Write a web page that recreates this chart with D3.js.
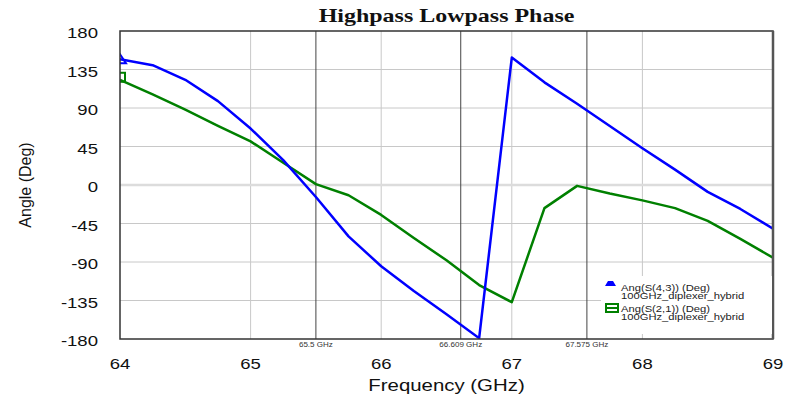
<!DOCTYPE html>
<html>
<head>
<meta charset="utf-8">
<script src="https://cdn.jsdelivr.net/npm/d3@7"></script>
<style>
  body { margin: 0; background: #fff; }
  text { font-family: "Liberation Sans", Arial, sans-serif; }
</style>
</head>
<body>
<div id="chart"></div>
<script>
// frequency points (GHz)
var freqs = [64, 64.25, 64.5, 64.75, 65, 65.25, 65.5, 65.75, 66, 66.25, 66.5,
             66.75, 67, 67.25, 67.5, 67.75, 68, 68.25, 68.5, 68.75, 69];
// Ang(S(4,3)) (Deg)
var s43 = [147, 140, 123, 98, 66, 29, -14, -60, -95, -124, -151,
           -179, 149, 120, 95, 69, 43, 18, -8, -28, -51];
// Ang(S(2,1)) (Deg)
var s21 = [123, 106, 88, 69, 51, 26, 1, -12, -35, -62, -88,
           -117, -137, -27, -1, -10, -18, -27, -42, -63, -85];

var xTicks = [64, 65, 66, 67, 68, 69];
var yTicks = [180, 135, 90, 45, 0, -45, -90, -135, -180];
var markers = [65.5, 66.609, 67.575];
var markerLabels = ["65.5 GHz", "66.609 GHz", "67.575 GHz"];
var seriesNames = ["Ang(S(4,3)) (Deg)", "Ang(S(2,1)) (Deg)"];
var seriesSource = "100GHz_diplexer_hybrid";

// text in the picture is a bit wider than normal, so stretch it sideways
function addText(g, x, y, str, size, anchor, sx){
    return g.append("text")
        .attr("transform", "translate(" + x + "," + y + ") scale(" + sx + ",1)")
        .attr("text-anchor", anchor)
        .attr("font-size", size)
        .attr("fill", "#111")
        .text(str);
}

function init(){
    var w = 790, h = 395;
    var left = 120, right = 773, top = 31, bottom = 339;

    var svg = d3.select("#chart")
                .append("svg")
                .attr("width", w)
                .attr("height", h);

    var x = d3.scaleLinear().domain([64, 69]).range([left, right]);
    var y = d3.scaleLinear().domain([-180, 180]).range([bottom, top]);

    svg.append("clipPath").attr("id", "plotclip")
        .append("rect")
        .attr("x", left).attr("y", top)
        .attr("width", right - left).attr("height", bottom - top);

    // grid
    svg.append("g")
        .selectAll("line")
        .data(xTicks.slice(1, -1))
        .enter()
        .append("line")
        .attr("x1", function(d){ return x(d); })
        .attr("x2", function(d){ return x(d); })
        .attr("y1", top).attr("y2", bottom)
        .attr("stroke", "#c8c8c8")
        .attr("stroke-width", 1);

    svg.append("g")
        .selectAll("line")
        .data(yTicks.slice(1, -1))
        .enter()
        .append("line")
        .attr("x1", left).attr("x2", right)
        .attr("y1", function(d){ return y(d); })
        .attr("y2", function(d){ return y(d); })
        .attr("stroke", function(d){ return d == 0 ? "#dcdcdc" : "#c8c8c8"; })
        .attr("stroke-width", function(d){ return d == 0 ? 2.5 : 1; });

    // frequency markers
    svg.append("g")
        .selectAll("line")
        .data(markers)
        .enter()
        .append("line")
        .attr("x1", function(d){ return x(d); })
        .attr("x2", function(d){ return x(d); })
        .attr("y1", top).attr("y2", bottom)
        .attr("stroke", "#444")
        .attr("stroke-width", 1);

    var mg = svg.append("g");
    markers.forEach(function(d, i){
        addText(mg, x(d), bottom + 8, markerLabels[i], 7, "middle", 1.15)
            .attr("fill", "#333");
    });

    // series lines
    var line = d3.line()
        .x(function(d, i){ return x(freqs[i]); })
        .y(function(d){ return y(d); });

    var plot = svg.append("g").attr("clip-path", "url(#plotclip)");

    plot.append("path")
        .datum(s21)
        .attr("d", line)
        .attr("fill", "none")
        .attr("stroke", "#008000")
        .attr("stroke-width", 2.5)
        .attr("stroke-linejoin", "round");

    plot.append("path")
        .datum(s43)
        .attr("d", line)
        .attr("fill", "none")
        .attr("stroke", "#0000ff")
        .attr("stroke-width", 2.5)
        .attr("stroke-linejoin", "round");

    // start markers (clipped by plot edge)
    var bx = x(freqs[0]), byy = y(s43[0]);
    plot.append("path")
        .attr("d", "M" + (bx - 6) + "," + (byy + 4) + "L" + bx + "," + (byy - 5) + "L" + (bx + 6) + "," + (byy + 4) + "Z")
        .attr("fill", "none")
        .attr("stroke", "#0000ff")
        .attr("stroke-width", 2);
    var gx = x(freqs[0]), gy = y(s21[0]);
    plot.append("rect")
        .attr("x", gx - 5).attr("y", gy - 7)
        .attr("width", 10).attr("height", 9)
        .attr("fill", "none")
        .attr("stroke", "#008000")
        .attr("stroke-width", 2);

    // plot border
    svg.append("rect")
        .attr("x", left).attr("y", top)
        .attr("width", right - left).attr("height", bottom - top)
        .attr("fill", "none")
        .attr("stroke", "#333")
        .attr("stroke-width", 1.5);
    svg.append("line")
        .attr("x1", right).attr("x2", right)
        .attr("y1", top).attr("y2", bottom)
        .attr("stroke", "#555")
        .attr("stroke-width", 2.5);

    // axes labels
    var yg = svg.append("g");
    yTicks.forEach(function(d){
        addText(yg, 98, y(d) + 7, d, 14.5, "end", 1.28);
    });

    var xg = svg.append("g");
    xTicks.forEach(function(d){
        addText(xg, x(d), 369, d, 14.5, "middle", 1.28);
    });

    addText(svg, (left + right) / 2, 391, "Frequency (GHz)", 17, "middle", 1.2);

    svg.append("text")
        .attr("transform", "translate(31," + y(0) + ") rotate(-90)")
        .attr("text-anchor", "middle")
        .attr("font-size", 16)
        .attr("fill", "#111")
        .text("Angle (Deg)");

    addText(svg, (left + right) / 2, 22, "Highpass Lowpass Phase", 19.5, "middle", 1.23)
        .attr("font-weight", "bold")
        .style("font-family", "'Liberation Serif', 'Times New Roman', serif");

    // legend
    var lg = svg.append("g");
    lg.append("rect")
        .attr("x", 601).attr("y", 276)
        .attr("width", right - 602).attr("height", 58)
        .attr("fill", "#fff");

    lg.append("path")
        .attr("d", "M605,286 L608,281 L613,281 L616,286 Z")
        .attr("fill", "#0000ff");
    lg.append("rect")
        .attr("x", 606).attr("y", 304)
        .attr("width", 12).attr("height", 8)
        .attr("fill", "none")
        .attr("stroke", "#008000")
        .attr("stroke-width", 2);
    lg.append("line")
        .attr("x1", 606).attr("x2", 618)
        .attr("y1", 308).attr("y2", 308)
        .attr("stroke", "#008000")
        .attr("stroke-width", 2);

    var entryY = [291, 311.5];
    seriesNames.forEach(function(name, i){
        var t = lg.append("text")
            .attr("transform", "translate(621," + entryY[i] + ") scale(1.18,1)")
            .attr("font-size", 9.5)
            .attr("fill", "#222");
        t.append("tspan").attr("x", 0).attr("y", 0).text(name);
        t.append("tspan").attr("x", 0).attr("y", 8.5).text(seriesSource);
    });
}
window.onload = init;
</script>
</body>
</html>
